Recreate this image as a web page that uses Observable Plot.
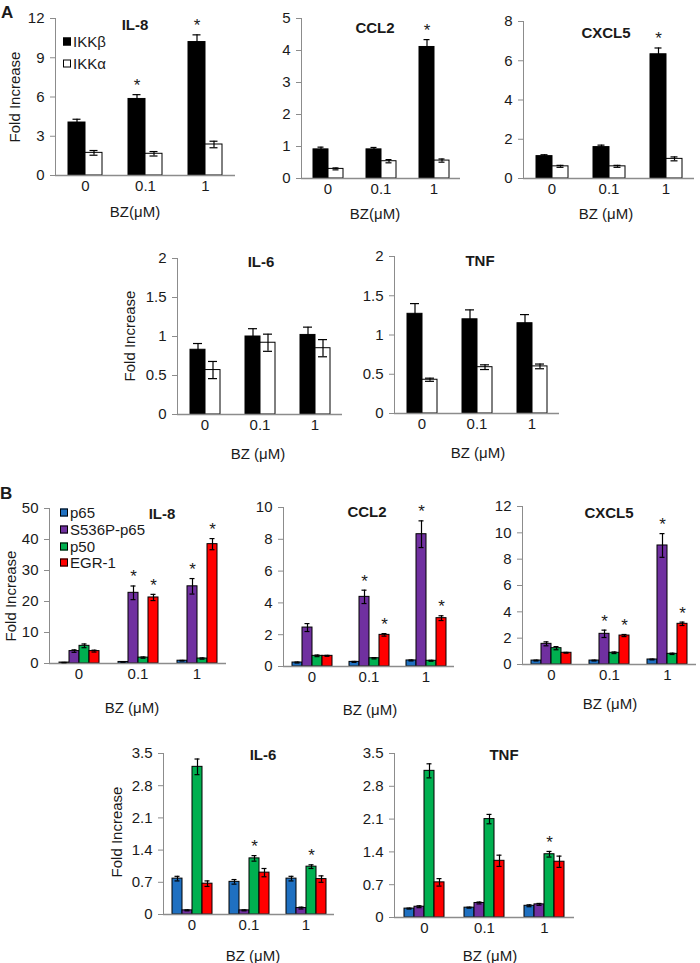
<!DOCTYPE html>
<html><head><meta charset="utf-8">
<script src="https://cdn.jsdelivr.net/npm/d3@7"></script>
<script src="https://cdn.jsdelivr.net/npm/@observablehq/plot@0.6"></script>
<style>
html,body{margin:0;padding:0;background:#fff;overflow:hidden}
#fig{position:relative;width:700px;height:963px;font-family:"Liberation Sans",Arial,sans-serif;color:#1a1a1a}
.abs{position:absolute}
.p svg text{fill:#1a1a1a}
.title{font-weight:bold;font-size:15px;transform:translate(-50%,-50%);white-space:nowrap}
.xl{font-size:15px;transform:translate(-50%,-50%);white-space:nowrap}
.yl{font-size:15px;transform:translate(-50%,-50%) rotate(-90deg);white-space:nowrap}
.lab{font-weight:bold;font-size:17px;transform:translateY(-50%)}
.lg{font-size:15px;white-space:nowrap;display:flex;align-items:center;transform:translateY(-50%);line-height:1}
.sw{display:inline-block;width:8px;height:8px;box-sizing:border-box;border:1px solid #000;margin-right:2px}
</style></head>
<body><div id="fig"></div>
<script>
// ---------- data ----------
const doses = ["0", "0.1", "1"];
const seriesA = ["IKKβ", "IKKα"];
const colorsA = ["#000000", "#ffffff"];
const seriesB = ["p65", "S536P-p65", "p50", "EGR-1"];
const colorsB = ["#1f70c1", "#7030a0", "#00b050", "#ff0000"];

// Panel A (rows follow seriesA)
const aIL8 = [[4.05, 5.85, 10.2], [1.73, 1.66, 2.37]];
const aIL8Err = [[0.25, 0.33, 0.55], [0.18, 0.17, 0.25]];
const aIL8Sig = [[0, 1, 1], [0, 0, 0]];
const aCCL2 = [[0.91, 0.91, 4.11], [0.3, 0.54, 0.56]];
const aCCL2Err = [[0.07, 0.06, 0.23], [0.03, 0.05, 0.05]];
const aCCL2Sig = [[0, 0, 1], [0, 0, 0]];
const aCXCL5 = [[1.14, 1.6, 6.33], [0.62, 0.62, 1.0]];
const aCXCL5Err = [[0.07, 0.1, 0.32], [0.05, 0.05, 0.1]];
const aCXCL5Sig = [[0, 0, 1], [0, 0, 0]];
const aIL6 = [[0.83, 1.0, 1.02], [0.57, 0.92, 0.85]];
const aIL6Err = [[0.08, 0.1, 0.1], [0.11, 0.11, 0.11]];
const aTNF = [[1.27, 1.2, 1.15], [0.43, 0.59, 0.6]];
const aTNFErr = [[0.13, 0.12, 0.11], [0.02, 0.03, 0.03]];

// Panel B (rows follow seriesB)
const bIL8 = [[0.3, 0.5, 0.9], [4.0, 22.8, 24.9], [5.7, 1.9, 1.6], [4.0, 21.3, 38.5]];
const bIL8Err = [[0.05, 0.05, 0.1], [0.4, 2.2, 2.5], [0.6, 0.2, 0.2], [0.3, 1.0, 1.8]];
const bIL8Sig = [[0, 0, 0], [0, 1, 1], [0, 0, 0], [0, 1, 1]];
const bCCL2 = [[0.25, 0.29, 0.38], [2.45, 4.38, 8.32], [0.67, 0.52, 0.36], [0.67, 1.99, 3.04]];
const bCCL2Err = [[0.03, 0.03, 0.03], [0.25, 0.42, 0.84], [0.05, 0.04, 0.03], [0.03, 0.08, 0.15]];
const bCCL2Sig = [[0, 0, 0], [0, 1, 1], [0, 0, 0], [0, 1, 1]];
const bCXCL5 = [[0.3, 0.3, 0.38], [1.57, 2.33, 9.04], [1.24, 0.89, 0.81], [0.89, 2.2, 3.09]];
const bCXCL5Err = [[0.03, 0.03, 0.03], [0.15, 0.28, 0.9], [0.12, 0.06, 0.05], [0.03, 0.08, 0.13]];
const bCXCL5Sig = [[0, 0, 0], [0, 1, 1], [0, 0, 0], [0, 1, 1]];
const bIL6 = [[0.78, 0.71, 0.78], [0.09, 0.09, 0.14], [3.21, 1.22, 1.04], [0.67, 0.91, 0.77]];
const bIL6Err = [[0.05, 0.05, 0.05], [0.01, 0.01, 0.02], [0.17, 0.06, 0.04], [0.06, 0.09, 0.07]];
const bIL6Sig = [[0, 0, 0], [0, 0, 0], [0, 1, 1], [0, 0, 0]];
const bTNF = [[0.19, 0.21, 0.25], [0.23, 0.31, 0.28], [3.13, 2.1, 1.35], [0.75, 1.21, 1.19]];
const bTNFErr = [[0.01, 0.01, 0.02], [0.02, 0.02, 0.02], [0.15, 0.1, 0.06], [0.08, 0.12, 0.12]];
const bTNFSig = [[0, 0, 0], [0, 0, 0], [0, 0, 1], [0, 0, 0]];

const ticksA12 = [0, 3, 6, 9, 12];
const ticksA5 = [0, 1, 2, 3, 4, 5];
const ticksA8 = [0, 2, 4, 6, 8];
const ticksA2 = [0, 0.5, 1, 1.5, 2];
const ticksB50 = [0, 10, 20, 30, 40, 50];
const ticksB10 = [0, 2, 4, 6, 8, 10];
const ticksB12 = [0, 2, 4, 6, 8, 10, 12];
const ticksB35 = [0, 0.7, 1.4, 2.1, 2.8, 3.5];

// ---------- layout ----------
const fig = document.getElementById("fig");
function addDiv(cls, x, y, html) {
  const d = document.createElement("div");
  d.className = "abs " + cls;
  d.style.left = x + "px"; d.style.top = y + "px";
  d.innerHTML = html;
  fig.appendChild(d);
  return d;
}

function drawPanel(p) {
  const mL = 46, mR = 2, mT = 18, mB = 26;
  const rows = [];
  p.series.forEach((s, i) => doses.forEach((d, j) => rows.push({
    dose: d, series: s, value: p.values[i][j], err: p.errors[i][j], sig: p.sig ? p.sig[i][j] : 0
  })));
  const fr = p.frame;
  const chart = Plot.plot({
    width: fr.r - fr.l + mL + mR,
    height: fr.b - fr.t + mT + mB,
    marginLeft: mL, marginRight: mR, marginTop: mT, marginBottom: mB,
    style: {fontFamily: '"Liberation Sans", Arial, sans-serif', fontSize: "15px", color: "#8c8c8c", background: "none", overflow: "visible"},
    fx: {domain: doses, padding: 0, axis: "bottom", label: null, tickSize: 0, tickPadding: 5},
    x: {domain: p.series, axis: null, paddingInner: 0, paddingOuter: 0.75},
    y: {domain: [0, p.yMax], ticks: p.ticks, tickFormat: d => `${d}`, tickSize: 5, tickPadding: 6, label: null, line: true},
    color: {domain: p.series, range: p.colors},
    marks: [
      Plot.barY(rows, {fx: "dose", x: "series", y: "value", fill: "series", stroke: "#000", strokeWidth: 1}),
      Plot.ruleY([0], {stroke: "#8c8c8c", strokeWidth: 1.5}),
      Plot.ruleX(rows, {fx: "dose", x: "series", y1: d => d.value - d.err, y2: d => d.value + d.err, stroke: "#000", strokeWidth: 1.2}),
      Plot.tickY(rows, {fx: "dose", x: "series", y: d => d.value + d.err, stroke: "#000", strokeWidth: 1.2, inset: p.capInset}),
      Plot.tickY(rows, {fx: "dose", x: "series", y: d => d.value - d.err, stroke: "#000", strokeWidth: 1.2, inset: p.capInset}),
      Plot.text(rows.filter(d => d.sig), {fx: "dose", x: "series", y: d => d.value + d.err, text: () => "*", fontSize: 17, dy: -9})
    ]
  });
  const wrap = document.createElement("div");
  wrap.className = "abs p";
  wrap.style.left = (fr.l - mL) + "px";
  wrap.style.top = (fr.t - mT) + "px";
  wrap.appendChild(chart);
  fig.appendChild(wrap);
  addDiv("title", p.title[0], p.title[1], p.name);
  addDiv("xl", p.xl[0], p.xl[1], p.xlabel || "BZ (μM)");
  if (p.yl) addDiv("yl", p.yl[0], p.yl[1], "Fold Increase");
}

// Panel A
drawPanel({name: "IL-8", series: seriesA, colors: colorsA, values: aIL8, errors: aIL8Err, sig: aIL8Sig,
  yMax: 12, ticks: ticksA12, frame: {l: 55, r: 235, t: 18, b: 175}, capInset: 4.5,
  title: [135, 24], xl: [135, 211], xlabel: "BZ(μM)", yl: [14, 97]});
drawPanel({name: "CCL2", series: seriesA, colors: colorsA, values: aCCL2, errors: aCCL2Err, sig: aCCL2Sig,
  yMax: 5, ticks: ticksA5, frame: {l: 300, r: 460, t: 18, b: 178}, capInset: 4.5,
  title: [375, 27], xl: [375, 213], xlabel: "BZ(μM)"});
drawPanel({name: "CXCL5", series: seriesA, colors: colorsA, values: aCXCL5, errors: aCXCL5Err, sig: aCXCL5Sig,
  yMax: 8, ticks: ticksA8, frame: {l: 523, r: 694, t: 21, b: 178}, capInset: 4.5,
  title: [606, 32], xl: [606, 213]});
drawPanel({name: "IL-6", series: seriesA, colors: colorsA, values: aIL6, errors: aIL6Err,
  yMax: 2, ticks: ticksA2, frame: {l: 176, r: 343, t: 258, b: 414}, capInset: 3,
  title: [261, 261], xl: [258, 453], yl: [129, 336]});
drawPanel({name: "TNF", series: seriesA, colors: colorsA, values: aTNF, errors: aTNFErr,
  yMax: 2, ticks: ticksA2, frame: {l: 393, r: 560, t: 256, b: 413}, capInset: 3,
  title: [480, 260], xl: [478, 452]});

// Panel B
drawPanel({name: "IL-8", series: seriesB, colors: colorsB, values: bIL8, errors: bIL8Err, sig: bIL8Sig,
  yMax: 50, ticks: ticksB50, frame: {l: 49, r: 226, t: 508, b: 663}, capInset: 2.5,
  title: [162, 513], xl: [132, 707], yl: [10, 596]});
drawPanel({name: "CCL2", series: seriesB, colors: colorsB, values: bCCL2, errors: bCCL2Err, sig: bCCL2Sig,
  yMax: 10, ticks: ticksB10, frame: {l: 282, r: 455, t: 507, b: 666}, capInset: 2.5,
  title: [367, 511], xl: [370, 709]});
drawPanel({name: "CXCL5", series: seriesB, colors: colorsB, values: bCXCL5, errors: bCXCL5Err, sig: bCXCL5Sig,
  yMax: 12, ticks: ticksB12, frame: {l: 521, r: 697, t: 506, b: 664}, capInset: 2.5,
  title: [609, 512], xl: [610, 703]});
drawPanel({name: "IL-6", series: seriesB, colors: colorsB, values: bIL6, errors: bIL6Err, sig: bIL6Sig,
  yMax: 3.5, ticks: ticksB35, frame: {l: 163, r: 334, t: 753, b: 914}, capInset: 2.5,
  title: [263, 754], xl: [253, 955], yl: [116, 832]});
drawPanel({name: "TNF", series: seriesB, colors: colorsB, values: bTNF, errors: bTNFErr, sig: bTNFSig,
  yMax: 3.5, ticks: ticksB35, frame: {l: 393, r: 574, t: 753, b: 917}, capInset: 2.5,
  title: [504, 754], xl: [490, 955]});

// panel letters
addDiv("lab", 1, 13, "A");
addDiv("lab", 0, 494, "B");

// legends
const legA = [41, 63];
seriesA.forEach((s, i) => addDiv("lg", 63, legA[i], `<span class="sw" style="background:${colorsA[i]}"></span>${s}`));
const legB = [512, 529, 546, 562];
seriesB.forEach((s, i) => addDiv("lg", 60, legB[i], `<span class="sw" style="background:${colorsB[i]}"></span>${s}`));
</script></body></html>
